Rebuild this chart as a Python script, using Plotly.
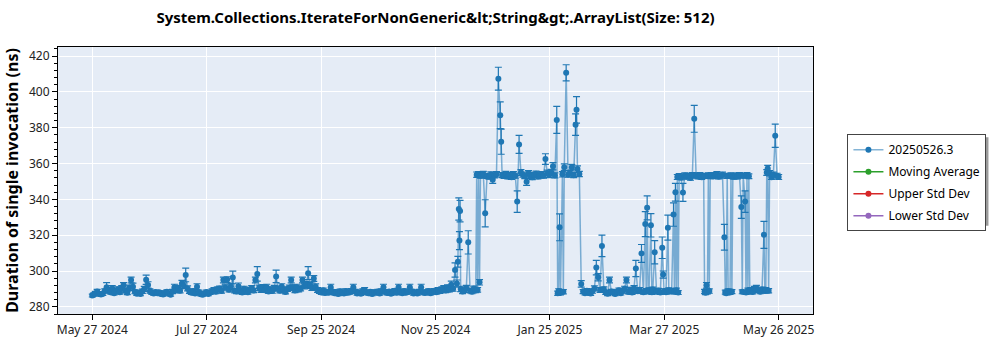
import numpy as np
import pandas as pd
import plotly.graph_objects as go

TITLE = "System.Collections.IterateForNonGeneric&amp;lt;String&amp;gt;.ArrayList(Size: 512)"
Y_TITLE = "Duration of single invocation (ns)"
SERIES_NAME = "20250526.3"
EXTRA_SERIES = ["Moving Average", "Upper Std Dev", "Lower Std Dev"]
EXTRA_COLORS = ["#2ca02c", "#d62728", "#9467bd"]
TICK_LABELS = ["May 27 2024", "Jul 27 2024", "Sep 25 2024", "Nov 25 2024",
               "Jan 25 2025", "Mar 27 2025", "May 26 2025"]

# Helper series with no values yet (they only appear in the legend)
MOVING_AVG = [None]
UPPER_STD = [None]
LOWER_STD = [None]

DATES = [
    # May 2024
    "2024-05-27T10:00", "2024-05-28", "2024-05-29", "2024-05-30", "2024-05-31",
    # June 2024
    "2024-06-01", "2024-06-02", "2024-06-03", "2024-06-04", "2024-06-05", "2024-06-06", "2024-06-07", "2024-06-08", "2024-06-09", "2024-06-10",
    "2024-06-11", "2024-06-12", "2024-06-13", "2024-06-14", "2024-06-15", "2024-06-16", "2024-06-17", "2024-06-18", "2024-06-19", "2024-06-20",
    "2024-06-21", "2024-06-22", "2024-06-23", "2024-06-24", "2024-06-25", "2024-06-26", "2024-06-27", "2024-06-28", "2024-06-29", "2024-06-30",
    # July 2024
    "2024-07-01", "2024-07-02", "2024-07-03", "2024-07-04", "2024-07-05", "2024-07-06", "2024-07-07", "2024-07-08", "2024-07-09", "2024-07-10",
    "2024-07-11", "2024-07-12", "2024-07-13", "2024-07-14", "2024-07-15", "2024-07-16", "2024-07-17", "2024-07-18", "2024-07-19", "2024-07-20",
    "2024-07-21", "2024-07-22", "2024-07-23", "2024-07-24", "2024-07-25", "2024-07-26", "2024-07-27", "2024-07-28", "2024-07-29", "2024-07-30",
    "2024-07-31",
    # August 2024
    "2024-08-01", "2024-08-02", "2024-08-03", "2024-08-04", "2024-08-05", "2024-08-06", "2024-08-07", "2024-08-08", "2024-08-09", "2024-08-10",
    "2024-08-11", "2024-08-12", "2024-08-13", "2024-08-14", "2024-08-15", "2024-08-16", "2024-08-17", "2024-08-18", "2024-08-19", "2024-08-20",
    "2024-08-21", "2024-08-22", "2024-08-23", "2024-08-24", "2024-08-25", "2024-08-26", "2024-08-27", "2024-08-28", "2024-08-29", "2024-08-30",
    "2024-08-31",
    # September 2024
    "2024-09-01", "2024-09-02", "2024-09-03", "2024-09-04", "2024-09-05", "2024-09-06", "2024-09-07", "2024-09-08", "2024-09-09", "2024-09-10",
    "2024-09-11", "2024-09-12", "2024-09-13", "2024-09-14", "2024-09-15", "2024-09-16", "2024-09-17", "2024-09-18", "2024-09-19", "2024-09-20",
    "2024-09-21", "2024-09-22", "2024-09-23", "2024-09-24", "2024-09-25", "2024-09-26", "2024-09-27", "2024-09-28", "2024-09-29", "2024-09-30",
    # October 2024
    "2024-10-01", "2024-10-02", "2024-10-03", "2024-10-04", "2024-10-05", "2024-10-06", "2024-10-07", "2024-10-08", "2024-10-09", "2024-10-10",
    "2024-10-11", "2024-10-12", "2024-10-13", "2024-10-14", "2024-10-15", "2024-10-16", "2024-10-17", "2024-10-18", "2024-10-19", "2024-10-20",
    "2024-10-21", "2024-10-22", "2024-10-23", "2024-10-24", "2024-10-25", "2024-10-26", "2024-10-27", "2024-10-28", "2024-10-29", "2024-10-30",
    "2024-10-31",
    # November 2024
    "2024-11-01", "2024-11-02", "2024-11-03", "2024-11-04", "2024-11-05", "2024-11-06", "2024-11-07", "2024-11-08", "2024-11-09", "2024-11-10",
    "2024-11-11", "2024-11-12", "2024-11-13", "2024-11-14", "2024-11-15", "2024-11-16", "2024-11-17", "2024-11-18", "2024-11-19", "2024-11-20",
    "2024-11-21", "2024-11-22", "2024-11-23", "2024-11-24", "2024-11-25", "2024-11-26", "2024-11-27", "2024-11-28", "2024-11-29", "2024-11-30",
    # December 2024
    "2024-12-01", "2024-12-02", "2024-12-03", "2024-12-04", "2024-12-05", "2024-12-06", "2024-12-07", "2024-12-07T12:00",
    "2024-12-08", "2024-12-08T08:00", "2024-12-08T16:00", "2024-12-09", "2024-12-10", "2024-12-11", "2024-12-12", "2024-12-13",
    "2024-12-14", "2024-12-15", "2024-12-16", "2024-12-17", "2024-12-17T12:00", "2024-12-18", "2024-12-18T12:00",
    "2024-12-19", "2024-12-19T12:00", "2024-12-20", "2024-12-21", "2024-12-22", "2024-12-23", "2024-12-24", "2024-12-25",
    "2024-12-26", "2024-12-27", "2024-12-28", "2024-12-29", "2024-12-30", "2024-12-30T12:00", "2024-12-31",
    # January 2025
    "2025-01-01", "2025-01-02", "2025-01-03", "2025-01-04", "2025-01-05", "2025-01-06", "2025-01-07", "2025-01-08", "2025-01-09", "2025-01-10",
    "2025-01-11", "2025-01-12", "2025-01-13", "2025-01-14", "2025-01-15", "2025-01-16", "2025-01-17", "2025-01-18", "2025-01-19", "2025-01-20",
    "2025-01-21", "2025-01-22", "2025-01-23", "2025-01-24", "2025-01-25", "2025-01-26", "2025-01-27", "2025-01-28", "2025-01-29",
    "2025-01-29T12:00", "2025-01-30", "2025-01-30T12:00", "2025-01-31",
    # February 2025
    "2025-02-01", "2025-02-01T12:00", "2025-02-02", "2025-02-03", "2025-02-04", "2025-02-05", "2025-02-06", "2025-02-07",
    "2025-02-08", "2025-02-08T12:00", "2025-02-09", "2025-02-10", "2025-02-11", "2025-02-12", "2025-02-13", "2025-02-14",
    "2025-02-15", "2025-02-16", "2025-02-17", "2025-02-18", "2025-02-19", "2025-02-20", "2025-02-21", "2025-02-22",
    "2025-02-23", "2025-02-24", "2025-02-25", "2025-02-26", "2025-02-27", "2025-02-28",
    # March 2025
    "2025-03-01", "2025-03-02", "2025-03-03", "2025-03-04", "2025-03-05", "2025-03-06", "2025-03-07", "2025-03-08", "2025-03-09", "2025-03-10",
    "2025-03-11", "2025-03-12", "2025-03-13", "2025-03-14", "2025-03-15", "2025-03-16", "2025-03-17", "2025-03-17T12:00",
    "2025-03-18", "2025-03-18T12:00", "2025-03-19", "2025-03-20", "2025-03-20T12:00", "2025-03-21", "2025-03-22", "2025-03-23",
    "2025-03-24", "2025-03-25", "2025-03-26", "2025-03-26T12:00", "2025-03-27", "2025-03-28", "2025-03-29", "2025-03-29T12:00",
    "2025-03-30", "2025-03-31",
    # April 2025
    "2025-04-01", "2025-04-01T12:00", "2025-04-02", "2025-04-02T12:00", "2025-04-03", "2025-04-03T12:00", "2025-04-04", "2025-04-05",
    "2025-04-06", "2025-04-07", "2025-04-08", "2025-04-09", "2025-04-10", "2025-04-11", "2025-04-12", "2025-04-13", "2025-04-14",
    "2025-04-15", "2025-04-16", "2025-04-17", "2025-04-17T12:00", "2025-04-18", "2025-04-18T12:00", "2025-04-19", "2025-04-19T12:00",
    "2025-04-20", "2025-04-20T12:00", "2025-04-21", "2025-04-22", "2025-04-23", "2025-04-24", "2025-04-25", "2025-04-26", "2025-04-27",
    "2025-04-28", "2025-04-28T12:00", "2025-04-29", "2025-04-29T12:00", "2025-04-30",
    # May 2025
    "2025-05-01", "2025-05-01T12:00", "2025-05-02", "2025-05-02T12:00", "2025-05-03", "2025-05-04", "2025-05-05", "2025-05-06",
    "2025-05-07", "2025-05-07T12:00", "2025-05-08", "2025-05-09", "2025-05-09T12:00", "2025-05-10", "2025-05-10T12:00",
    "2025-05-11", "2025-05-11T12:00", "2025-05-12", "2025-05-13", "2025-05-14", "2025-05-15", "2025-05-16", "2025-05-17",
    "2025-05-18", "2025-05-19", "2025-05-19T12:00", "2025-05-20", "2025-05-20T12:00", "2025-05-21", "2025-05-21T12:00",
    "2025-05-22", "2025-05-23", "2025-05-24", "2025-05-25", "2025-05-26", "2025-05-26T20:00",
]

DURATION_NS = [
    # May 2024
    286.3, 286.8, 287.5, 288.6, 287.2,
    # June 2024
    286.9, 287.4, 288.8, 291.0, 289.4, 288.2, 290.2, 287.6, 288.9, 289.8,
    288.1, 290.4, 292.0, 289.0, 287.8, 290.6, 295.0, 291.2, 288.4, 287.3,
    288.0, 287.1, 288.7, 290.0, 295.1, 292.2, 288.9, 288.0, 287.4, 288.3,
    # July 2024
    287.6, 288.1, 287.2, 286.9, 287.8, 288.4, 287.5, 286.8, 288.6, 291.0,
    289.2, 290.5, 289.0, 293.0, 291.8, 297.8, 290.3, 288.6, 287.9, 288.8,
    287.5, 291.2, 288.2, 287.0, 286.8, 287.6, 288.3, 287.1, 288.0, 288.9,
    289.5,
    # August 2024
    288.4, 289.8, 290.2, 288.9, 295.0, 290.8, 295.2, 289.6, 291.4, 296.4,
    289.0, 288.5, 291.5, 289.3, 288.0, 290.1, 289.0, 288.2, 289.6, 290.4,
    289.1, 295.0, 298.4, 290.6, 289.4, 290.9, 289.2, 291.0, 288.6, 289.8,
    288.8,
    # September 2024
    290.5, 297.0, 290.2, 289.0, 291.3, 289.5, 288.3, 289.9, 290.6, 295.0,
    290.8, 289.1, 291.0, 289.7, 290.3, 295.0, 291.6, 292.4, 298.8, 292.0,
    290.7, 295.8, 291.2, 289.4, 288.6, 288.0, 289.2, 287.7, 288.4, 287.9,
    # October 2024
    291.0, 288.5, 287.6, 288.3, 287.2, 288.7, 288.0, 287.4, 288.9, 287.8,
    288.2, 289.0, 291.0, 288.6, 287.5, 288.1, 287.3, 288.8, 289.4, 288.0,
    287.6, 288.4, 287.1, 288.2, 287.9, 288.6, 287.4, 288.9, 291.0, 288.3,
    287.7,
    # November 2024
    288.5, 287.3, 288.1, 289.0, 287.8, 291.0, 288.4, 287.6, 288.8, 287.9,
    288.3, 291.0, 288.7, 287.5, 288.2, 287.4, 288.6, 291.0, 288.1, 287.7,
    288.4, 288.9, 287.6, 288.3, 289.0, 288.2, 289.4, 288.7, 289.8, 290.3,
    # December 2024
    289.1, 290.8, 289.6, 292.4, 290.1, 300.6, 293.0, 305.2,
    334.6, 317.0, 333.5, 290.0, 288.6, 289.3, 290.5, 316.0,
    289.0, 288.4, 290.2, 289.1, 353.8, 289.5, 354.0,
    293.7, 353.2, 353.5, 354.2, 332.2, 353.1, 352.6, 353.9,
    351.0, 353.4, 354.0, 407.4, 387.0, 372.2, 353.6,
    # January 2025
    353.0, 354.2, 352.8, 353.5, 352.4, 354.0, 353.2, 338.8, 370.7, 355.0,
    353.8, 352.9, 349.8, 354.6, 353.1, 352.3, 353.7, 354.3, 352.8, 353.4,
    354.0, 353.2, 362.5, 354.8, 353.6, 355.2, 358.5, 353.4, 384.4,
    287.6, 288.8, 324.4, 287.9,
    # February 2025
    354.0, 288.4, 358.0, 410.7, 353.8, 354.6, 358.0, 353.5,
    381.7, 390.0, 357.0, 354.2, 292.8, 288.5, 287.6, 289.0,
    288.2, 287.4, 288.8, 290.3, 301.9, 296.5, 289.4, 314.0,
    289.8, 288.1, 287.3, 295.0, 288.6, 287.9,
    # March 2025
    287.2, 288.4, 289.2, 287.6, 288.9, 290.1, 295.0, 288.3, 289.6, 288.0,
    290.4, 301.4, 288.7, 289.5, 309.8, 288.2, 326.2, 289.0,
    335.3, 288.6, 289.3, 325.5, 288.1, 289.7, 310.5, 288.4,
    289.1, 288.0, 313.0, 298.0, 288.9, 288.2, 324.2, 289.3,
    288.6, 289.0,
    # April 2025
    331.5, 288.4, 344.0, 289.2, 352.5, 288.0, 353.0, 352.2,
    343.9, 353.4, 352.6, 353.1, 352.0, 353.6, 385.0, 353.3, 352.8,
    353.5, 352.4, 353.1, 288.6, 287.9, 292.0, 288.3, 353.4,
    288.8, 353.0, 353.6, 352.9, 353.4, 354.0, 352.7, 353.2, 353.8,
    318.9, 288.2, 287.6, 353.1, 288.9,
    # May 2025
    288.0, 353.4, 288.5, 353.0, 352.6, 353.3, 352.8, 353.6,
    335.7, 288.4, 353.2, 338.8, 288.0, 353.5, 289.1,
    352.9, 288.6, 289.4, 288.3, 290.0, 290.5, 289.2, 288.4,
    289.7, 320.2, 288.9, 289.5, 355.0, 357.2, 289.0,
    354.6, 352.4, 353.8, 375.5, 353.2, 352.5,
]

ERROR_NS = [
    # May 2024
    0.8, 0.9, 1.1, 1.2, 1.0,
    # June 2024
    0.9, 1.0, 1.2, 2.5, 1.3, 1.0, 1.6, 1.0, 1.2, 1.4,
    1.0, 1.5, 1.5, 1.2, 1.0, 1.5, 1.6, 2.0, 1.1, 0.9,
    1.0, 0.9, 1.2, 1.4, 2.6, 1.8, 1.2, 1.0, 0.9, 1.0,
    # July 2024
    1.0, 1.0, 0.9, 0.9, 1.0, 1.1, 1.0, 0.9, 1.2, 1.6,
    1.3, 1.5, 1.2, 1.8, 1.6, 3.8, 1.4, 1.1, 1.0, 1.2,
    1.0, 1.7, 1.1, 0.9, 0.9, 1.0, 1.1, 0.9, 1.0, 1.2,
    1.3,
    # August 2024
    1.1, 1.3, 1.4, 1.2, 1.6, 1.5, 1.6, 1.3, 1.6, 3.5,
    1.2, 1.1, 1.8, 1.2, 1.0, 1.4, 1.2, 1.1, 1.3, 1.4,
    1.2, 1.6, 4.0, 1.5, 1.3, 1.5, 1.2, 1.6, 1.1, 1.3,
    1.2,
    # September 2024
    1.5, 3.5, 1.4, 1.2, 1.6, 1.3, 1.1, 1.3, 1.5, 1.6,
    1.5, 1.2, 1.6, 1.3, 1.4, 1.6, 1.6, 1.7, 3.6, 1.7,
    1.5, 1.6, 1.6, 1.3, 1.1, 1.0, 1.2, 1.0, 1.1, 1.0,
    # October 2024
    1.6, 1.1, 1.0, 1.1, 0.9, 1.2, 1.0, 0.9, 1.2, 1.0,
    1.1, 1.2, 1.6, 1.1, 1.0, 1.0, 0.9, 1.2, 1.3, 1.0,
    1.0, 1.1, 0.9, 1.1, 1.0, 1.1, 0.9, 1.2, 1.6, 1.1,
    1.0,
    # November 2024
    1.1, 0.9, 1.0, 1.2, 1.0, 1.6, 1.1, 1.0, 1.2, 1.0,
    1.1, 1.6, 1.1, 1.0, 1.0, 0.9, 1.1, 1.6, 1.0, 1.0,
    1.1, 1.2, 1.0, 1.1, 1.2, 1.1, 1.3, 1.2, 1.4, 1.5,
    # December 2024
    1.2, 1.5, 1.3, 2.0, 1.4, 4.0, 2.0, 3.0,
    6.2, 5.0, 6.0, 1.5, 1.2, 1.3, 1.5, 6.5,
    1.2, 1.1, 1.4, 1.2, 1.5, 1.3, 1.5,
    1.5, 1.4, 1.4, 1.5, 7.6, 1.4, 1.3, 1.5,
    2.0, 1.4, 1.5, 6.4, 7.5, 7.0, 1.4,
    # January 2025
    1.3, 1.5, 1.3, 1.4, 1.3, 1.5, 1.4, 6.0, 5.0, 1.6,
    1.4, 1.3, 2.0, 1.5, 1.4, 1.3, 1.4, 1.5, 1.3, 1.4,
    1.5, 1.4, 3.0, 1.5, 1.4, 1.6, 2.0, 1.4, 7.5,
    1.2, 1.3, 7.5, 1.2,
    # February 2025
    1.5, 1.2, 1.8, 4.5, 1.4, 1.5, 1.5, 1.4,
    6.0, 7.4, 1.7, 1.5, 1.8, 1.1, 1.0, 1.2,
    1.1, 1.0, 1.2, 1.4, 4.0, 2.0, 1.3, 6.0,
    1.3, 1.1, 1.0, 1.6, 1.1, 1.0,
    # March 2025
    0.9, 1.1, 1.2, 1.0, 1.2, 1.4, 1.6, 1.1, 1.3, 1.0,
    1.4, 4.5, 1.2, 1.3, 5.0, 1.1, 7.0, 1.2,
    6.7, 1.2, 1.3, 6.5, 1.1, 1.3, 6.5, 1.1,
    1.2, 1.0, 6.0, 2.0, 1.2, 1.1, 7.0, 1.3,
    1.2, 1.2,
    # April 2025
    6.5, 1.2, 5.0, 1.3, 1.4, 1.1, 1.4, 1.3,
    5.0, 1.4, 1.3, 1.4, 1.3, 1.4, 7.5, 1.4, 1.3,
    1.4, 1.3, 1.4, 1.2, 1.1, 1.6, 1.1, 1.4,
    1.2, 1.4, 1.4, 1.3, 1.4, 1.5, 1.3, 1.4, 1.4,
    7.2, 1.1, 1.0, 1.4, 1.2,
    # May 2025
    1.1, 1.4, 1.1, 1.4, 1.3, 1.4, 1.3, 1.4,
    6.3, 1.1, 1.4, 6.0, 1.1, 1.4, 1.3,
    1.3, 1.2, 1.3, 1.1, 1.4, 1.5, 1.3, 1.1,
    1.3, 7.5, 1.2, 1.3, 1.6, 1.8, 1.2,
    1.5, 1.3, 1.4, 6.5, 1.4, 1.4,
]

assert len(DATES) == len(DURATION_NS) == len(ERROR_NS)

BLUE = "#1f77b4"
FONT = "Noto Sans"

x = pd.to_datetime(DATES, format="ISO8601")

fig = go.Figure()
fig.add_trace(go.Scatter(
    x=x, y=DURATION_NS, name=SERIES_NAME, mode="lines+markers",
    line=dict(color="rgba(31,119,180,0.55)", width=1.5),
    marker=dict(color=BLUE, size=6),
    error_y=dict(type="data", array=ERROR_NS, visible=True,
                 color=BLUE, thickness=1.2, width=3.5),
    legendgroup="a",
))
for name, color, vals, grp in zip(EXTRA_SERIES, EXTRA_COLORS,
                                  [MOVING_AVG, UPPER_STD, LOWER_STD], "bcd"):
    fig.add_trace(go.Scatter(
        x=vals, y=vals, name=name, mode="lines+markers",
        line=dict(color=color, width=1.5), marker=dict(color=color, size=6),
        legendgroup=grp, showlegend=True,
    ))

# date ticks evenly spaced across the measured span, 5% padding on each side
t0, t1 = x.min(), x.max()
span = t1 - t0
tickvals = [t0 + span * k / (len(TICK_LABELS) - 1) for k in range(len(TICK_LABELS))]
xrange = [t0 - span * 0.05, t1 + span * 0.05]

axis_common = dict(
    showline=True, linecolor="black", linewidth=1, mirror=True,
    gridcolor="white", gridwidth=1, zeroline=False,
    ticks="outside", ticklen=5, tickcolor="black",
    tickfont=dict(family=FONT, size=12, color="#222"),
)

fig.update_layout(
    width=1000, height=350,
    margin=dict(l=54, r=187, t=47, b=31),
    paper_bgcolor="white", plot_bgcolor="#E5ECF6",
    font=dict(family=FONT, color="black"),
    title=dict(text=TITLE, x=0.5, xref="paper", xanchor="center",
               y=1 - 18 / 350, yref="container", yanchor="middle",
               font=dict(family=FONT, size=15, color="black", weight="bold")),
    xaxis=dict(range=xrange, tickvals=tickvals, ticktext=TICK_LABELS, **axis_common),
    yaxis=dict(range=[276.0, 425.1], tick0=280, dtick=20,
               minor=dict(dtick=4, ticks="outside", ticklen=3, tickcolor="black", showgrid=False),
               title=dict(text=Y_TITLE, font=dict(family=FONT, size=16, color="black", weight="bold"),
                          standoff=6),
               **axis_common),
    legend=dict(x=1.0456, y=0.6732, xanchor="left", yanchor="top",
                bgcolor="white", bordercolor="#444", borderwidth=1,
                font=dict(family=FONT, size=12, color="black"),
                tracegroupgap=3),
    showlegend=True,
)

# soft drop shadow behind the legend box
fig.add_shape(type="rect", xref="paper", yref="paper",
              x0=1.0496, x1=1.2324, y0=0.3305, y1=0.662,
              fillcolor="#9a9a9a", line=dict(width=0), layer="below")

fig.write_html("out.html")
